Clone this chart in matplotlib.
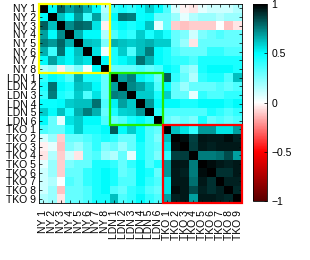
import numpy as np
import matplotlib
matplotlib.use('Agg')
import matplotlib.pyplot as plt
from matplotlib.colors import LinearSegmentedColormap
from matplotlib.patches import Rectangle

plt.rcParams['font.family'] = ['Liberation Sans', 'DejaVu Sans']

# station labels
ny_labels = ['NY %d' % i for i in range(1, 9)]
ldn_labels = ['LDN %d' % i for i in range(1, 7)]
tko_labels = ['TKO %d' % i for i in range(1, 10)]
labels = ny_labels + ldn_labels + tko_labels

# lower triangle of the correlation matrix (row i holds columns 0..i)
ny_rows = [
    [1.00],
    [0.50, 1.00],
    [0.82, 0.62, 1.00],
    [0.68, 0.50, 0.72, 1.00],
    [0.75, 0.70, 0.80, 0.65, 1.00],
    [0.65, 0.38, 0.78, 0.50, 0.62, 1.00],
    [0.50, 0.68, 0.55, 0.50, 0.60, 0.55, 1.00],
    [0.15, 0.20, -0.03, 0.15, 0.25, 0.03, 0.50, 1.00],
]
ldn_rows = [
    [0.40, 0.50, 0.45, 0.35, 0.65, 0.45, 0.45, 0.30, 1.00],
    [0.45, 0.78, 0.50, 0.45, 0.62, 0.60, 0.50, 0.30, 0.68, 1.00],
    [0.40, 0.75, 0.45, 0.40, 0.60, 0.35, 0.55, 0.30, 0.75, 0.73, 1.00],
    [0.48, 0.48, 0.50, 0.60, 0.62, 0.62, 0.78, 0.35, 0.52, 0.68, 0.60, 1.00],
    [0.60, 0.50, 0.62, 0.45, 0.65, 0.75, 0.65, 0.30, 0.45, 0.58, 0.60, 0.70, 1.00],
    [0.50, 0.30, 0.05, 0.55, 0.60, 0.50, 0.50, 0.35, 0.30, 0.35, 0.45, 0.50, 0.42, 1.00],
]
tko_rows = [
    [0.35, 0.30, 0.30, 0.45, 0.60, 0.45, 0.45, 0.50, 0.82, 0.50, 0.60, 0.50, 0.35, 0.30, 1.00],
    [0.08, 0.20, -0.10, 0.30, 0.30, 0.35, 0.40, 0.45, 0.40, 0.30, 0.30, 0.50, 0.35, 0.25, 0.62, 1.00],
    [-0.03, 0.05, -0.12, 0.25, 0.20, 0.30, 0.40, 0.25, 0.30, 0.20, 0.30, 0.45, 0.35, 0.30, 0.55, 0.97, 1.00],
    [-0.05, 0.15, -0.10, 0.10, -0.05, 0.30, 0.35, 0.20, 0.15, 0.30, 0.05, 0.45, 0.35, 0.25, 0.40, 0.87, 0.88, 1.00],
    [0.05, 0.20, -0.10, 0.25, 0.30, 0.30, 0.45, 0.45, 0.40, 0.30, 0.40, 0.50, 0.35, 0.45, 0.70, 0.96, 0.95, 0.75, 1.00],
    [0.10, 0.20, -0.10, 0.30, 0.30, 0.40, 0.45, 0.50, 0.45, 0.30, 0.35, 0.50, 0.45, 0.30, 0.70, 0.95, 0.93, 0.75, 0.97, 1.00],
    [0.10, 0.15, 0.00, 0.35, 0.30, 0.40, 0.45, 0.50, 0.45, 0.35, 0.35, 0.50, 0.40, 0.35, 0.55, 0.95, 0.95, 0.78, 0.95, 0.90, 1.00],
    [0.10, 0.20, -0.12, 0.30, 0.30, 0.35, 0.45, 0.50, 0.35, 0.30, 0.40, 0.45, 0.35, 0.30, 0.55, 0.97, 0.95, 0.85, 0.93, 0.90, 0.93, 1.00],
    [0.15, 0.20, -0.05, 0.30, 0.30, 0.35, 0.45, 0.45, 0.62, 0.35, 0.40, 0.50, 0.40, 0.35, 0.68, 0.93, 0.95, 0.68, 0.95, 0.95, 0.93, 0.92, 1.00],
]


def build_matrix(rows):
    n = len(rows)
    m = np.zeros((n, n))
    for i, r in enumerate(rows):
        m[i, :len(r)] = r
    return m + m.T - np.diag(np.diag(m))


def main():
    corr = build_matrix(ny_rows + ldn_rows + tko_rows)
    n_ny, n_ldn, n_tko = len(ny_labels), len(ldn_labels), len(tko_labels)

    cmap = LinearSegmentedColormap.from_list('rwcb', [
        (0.0, (0.35, 0.0, 0.0)),
        (0.25, (1.0, 0.0, 0.0)),
        (0.5, (1.0, 1.0, 1.0)),
        (0.75, (0.0, 1.0, 1.0)),
        (1.0, (0.0, 0.0, 0.0))])

    fig = plt.figure(figsize=(3.1, 2.6), dpi=100)
    ax = fig.add_axes([39/310, 1-203/260, 203/310, 199/260])
    im = ax.imshow(corr, cmap=cmap, vmin=-1, vmax=1, aspect='auto', interpolation='nearest')

    ax.set_xticks(range(len(labels)))
    ax.set_xticklabels(labels, rotation=90)
    ax.set_yticks(range(len(labels)))
    ax.set_yticklabels(labels)
    ax.tick_params(direction='in', length=2, width=0.5, top=True, right=True, labelsize=7.5, pad=2)
    ax.tick_params(axis='x', pad=5)
    for s in ax.spines.values():
        s.set_linewidth(0.6)

    # group boxes
    blocks = [(0, n_ny, 'yellow'), (n_ny, n_ldn, '#22ee00'), (n_ny + n_ldn, n_tko, 'red')]
    for start, size, col in blocks:
        ax.add_patch(Rectangle((start - 0.5, start - 0.5), size, size, fill=False,
                               edgecolor=col, lw=1.6, clip_on=False, zorder=5))

    cax = fig.add_axes([253/310, 1-201/260, 14/310, 197/260])
    cb = fig.colorbar(im, cax=cax, ticks=[-1, -0.5, 0, 0.5, 1])
    cb.ax.set_yticklabels(['\u22121', '\u22120.5', '0', '0.5', '1'])
    cb.ax.tick_params(direction='in', length=2, width=0.5, labelsize=7.5, pad=3)
    cb.outline.set_linewidth(0.6)

    fig.savefig('out.png', dpi=100)


if __name__ == '__main__':
    main()
